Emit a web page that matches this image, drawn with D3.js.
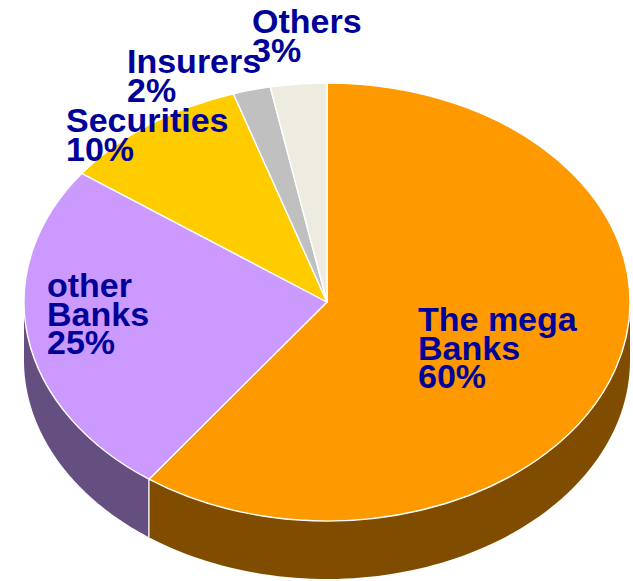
<!DOCTYPE html>
<html>
<head>
<meta charset="utf-8">
<script src="https://cdn.jsdelivr.net/npm/d3@7"></script>
<style>
  html, body { margin: 0; padding: 0; background: #ffffff; }
  svg { display: block; }
</style>
</head>
<body>
<svg id="chart" width="633" height="581"></svg>
<script>
// Market share by type of institution (percent)
const categories = ["The mega Banks", "other Banks", "Securities", "Insurers", "Others"];
const shares = [60, 25, 10, 2, 3];
// label lines drawn for each slice
const labelLines = [
  ["The mega", "Banks", "60%"],
  ["other", "Banks", "25%"],
  ["Securities", "10%"],
  ["Insurers", "2%"],
  ["Others", "3%"]
];

// styling
const topColors = ["#ff9900", "#cc99ff", "#ffcc00", "#c0c0c0", "#eeece1"];
const sideColors = ["#7f4c00", "#654f80", "#806600", "#606060", "#77766f"];
const labelColor = "#000099";
const labelPos = [[418, 331], [47, 297], [66, 132], [127, 73], [252, 33]];
const lineStep = 28.7;

const cx = 327, cy = 302, rx = 303, ry = 219, depth = 58;

const svg = d3.select("#chart");

const pie = d3.pie().sort(null).value(d => d)
  .startAngle(0).endAngle(2 * Math.PI);
const arcs = pie(shares);

// angle (clockwise from 12 o'clock) -> point on the ellipse
const ex = a => cx + rx * Math.sin(a);
const ey = a => cy - ry * Math.cos(a);

// side walls: only the front half (angles between PI/2 and 3PI/2) is visible
const sideLayer = svg.append("g");
const wallLine = d3.line();
arcs.forEach((a, i) => {
  const a0 = Math.max(a.startAngle, Math.PI / 2);
  const a1 = Math.min(a.endAngle, 3 * Math.PI / 2);
  if (a1 <= a0) return;
  const n = 80;
  const pts = [];
  for (let k = 0; k <= n; k++) {
    const t = a0 + (a1 - a0) * k / n;
    pts.push([ex(t), ey(t)]);
  }
  for (let k = n; k >= 0; k--) {
    const t = a0 + (a1 - a0) * k / n;
    pts.push([ex(t), ey(t) + depth]);
  }
  sideLayer.append("path")
    .attr("d", wallLine(pts) + "Z")
    .attr("fill", sideColors[i])
    .attr("stroke", "none");
});
// wall seams at slice boundaries on the front
arcs.forEach(a => {
  const t = a.startAngle;
  if (t > Math.PI / 2 && t < 3 * Math.PI / 2) {
    sideLayer.append("line")
      .attr("x1", ex(t)).attr("y1", ey(t))
      .attr("x2", ex(t)).attr("y2", ey(t) + depth)
      .attr("stroke", "#ffffff").attr("stroke-width", 1.3);
  }
});

// top face: circular arcs squashed into the ellipse
const arc = d3.arc().innerRadius(0).outerRadius(rx);
const topLayer = svg.append("g")
  .attr("transform", `translate(${cx},${cy}) scale(1,${ry / rx})`);
topLayer.selectAll("path")
  .data(arcs)
  .join("path")
  .attr("d", arc)
  .attr("fill", (d, i) => topColors[i])
  .attr("stroke", "#ffffff")
  .attr("stroke-width", 1.4)
  .attr("stroke-linejoin", "round")
  .attr("vector-effect", "non-scaling-stroke");

// labels
const labels = svg.append("g")
  .attr("font-family", "'Liberation Sans', Arial, sans-serif")
  .attr("font-weight", "bold")
  .attr("font-size", 34)
  .attr("fill", labelColor);
labelLines.forEach((lines, i) => {
  const t = labels.append("text")
    .attr("x", labelPos[i][0]).attr("y", labelPos[i][1]);
  lines.forEach((s, k) => {
    t.append("tspan")
      .attr("x", labelPos[i][0])
      .attr("y", labelPos[i][1] + k * lineStep)
      .text(s);
  });
});
</script>
</body>
</html>
